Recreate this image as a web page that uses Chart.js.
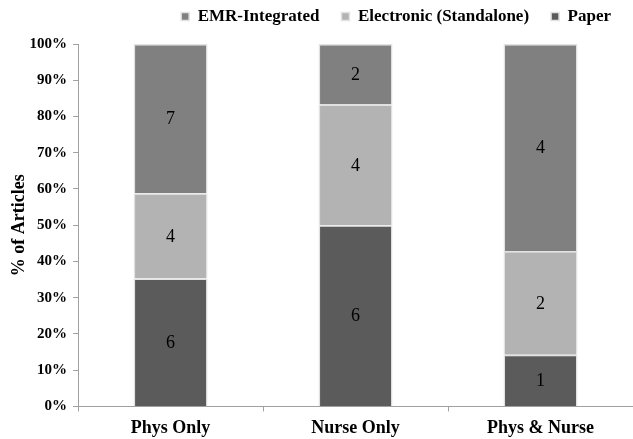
<!DOCTYPE html>
<html>
<head>
<meta charset="utf-8">
<script src="https://cdn.jsdelivr.net/npm/chart.js@4.4.0/dist/chart.umd.min.js"></script>
<style>
  html, body { margin: 0; padding: 0; background: #fff; }
  #wrap { width: 633px; height: 439px; }
</style>
</head>
<body>
<div id="wrap"><canvas id="chart"></canvas></div>
<script>
var categories = ['Phys Only', 'Nurse Only', 'Phys & Nurse'];
var paperCounts = [6, 6, 1];
var electronicCounts = [4, 4, 2];
var emrCounts = [7, 2, 4];
var yTicks = ['0%', '10%', '20%', '30%', '40%', '50%', '60%', '70%', '80%', '90%', '100%'];

// totals per category, used to turn counts into percent of articles
var totals = categories.map(function(c, i) {
	return paperCounts[i] + electronicCounts[i] + emrCounts[i];
});
function toPct(arr) {
	return arr.map(function(v, i) { return v / totals[i] * 100; });
}

var serif = "'Liberation Serif', 'DejaVu Serif', serif";

// draws the raw count in the middle of each segment
var countLabels = {
	id: 'countLabels',
	afterDatasetsDraw: function(chart) {
		var ctx = chart.ctx;
		ctx.save();
		ctx.font = '18px ' + serif;
		ctx.fillStyle = '#000';
		ctx.textAlign = 'center';
		ctx.textBaseline = 'middle';
		chart.data.datasets.forEach(function(ds, di) {
			var meta = chart.getDatasetMeta(di);
			meta.data.forEach(function(bar, i) {
				var mid = (bar.y + bar.base) / 2;
				ctx.fillText(String(ds.counts[i]), bar.x, mid + 1);
			});
		});
		ctx.restore();
	}
};

// more room under the legend so the plot starts lower
var legendGap = {
	id: 'legendGap',
	beforeInit: function(chart) {
		var origFit = chart.legend.fit;
		chart.legend.fit = function() {
			origFit.bind(chart.legend)();
			this.height += 9;
		};
	}
};

var ctx = document.getElementById('chart').getContext('2d');
var chart = new Chart(ctx, {
	type: 'bar',
	data: {
		labels: categories,
		datasets: [{
			label: 'Paper',
			counts: paperCounts,
			data: toPct(paperCounts),
			backgroundColor: '#5b5b5b',
			borderColor: '#e2e2e2',
			borderWidth: 1.5
		}, {
			label: 'Electronic (Standalone)',
			counts: electronicCounts,
			data: toPct(electronicCounts),
			backgroundColor: '#b3b3b3',
			borderColor: '#e2e2e2',
			borderWidth: 1.5
		}, {
			label: 'EMR-Integrated',
			counts: emrCounts,
			data: toPct(emrCounts),
			backgroundColor: '#808080',
			borderColor: '#e2e2e2',
			borderWidth: 1.5
		}]
	},
	options: {
		responsive: true,
		maintainAspectRatio: false,
		animation: false,
		layout: { padding: { left: 0, right: 0, top: -14, bottom: -6 } },
		datasets: { bar: { categoryPercentage: 0.4, barPercentage: 1.0 } },
		scales: {
			x: {
				stacked: true,
				grid: { display: true, drawOnChartArea: false, offset: true, color: '#a0a0a0', tickLength: 5 },
				border: { color: '#a0a0a0', width: 1 },
				ticks: { color: '#000', font: { family: serif, size: 18, weight: 'bold' }, padding: 6 }
			},
			y: {
				stacked: true,
				min: 0,
				max: 100,
				grid: { display: true, drawOnChartArea: false, color: '#a0a0a0', tickLength: 5 },
				border: { color: '#a0a0a0', width: 1 },
				ticks: {
					stepSize: 10,
					color: '#000',
					padding: 6,
					font: { family: serif, size: 15, weight: 'bold' },
					callback: function(v, i) { return yTicks[i]; }
				},
				title: {
					display: true,
					text: '% of Articles',
					color: '#000',
					font: { family: serif, size: 18, weight: 'bold' },
					padding: { top: 9, bottom: -7 }
				}
			}
		},
		plugins: {
			legend: {
				display: true,
				position: 'top',
				align: 'end',
				reverse: true,
				labels: {
					color: '#000',
					boxWidth: 8,
					boxHeight: 8,
					padding: 22,
					font: { family: serif, size: 17, weight: 'bold' }
				}
			},
			tooltip: { enabled: false },
			title: { display: false }
		}
	},
	plugins: [countLabels, legendGap]
});
</script>
</body>
</html>
